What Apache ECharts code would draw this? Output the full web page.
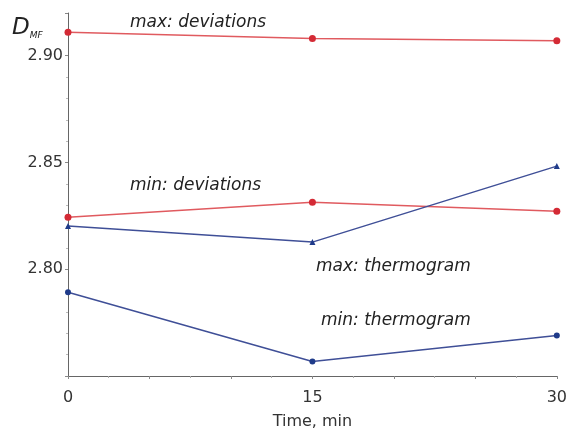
<!DOCTYPE html>
<html><head><meta charset="utf-8">
<script src="https://cdn.jsdelivr.net/npm/echarts@6/dist/echarts.min.js"></script>
<style>html,body{margin:0;padding:0;background:#fff}#c{width:570px;height:435px}</style>
</head><body><div id="c"></div>
<script>
const times = [0, 15, 30];
const maxDeviations = [2.911, 2.908, 2.907];
const minDeviations = [2.8244, 2.8314, 2.8272];
const maxThermogram = [2.8202, 2.8127, 2.8483];
const minThermogram = [2.7892, 2.7568, 2.769];
const xTickLabels = [0, 15, 30];
const yTickLabels = [2.80, 2.85, 2.90];

const pair = arr => times.map((t, i) => [t, arr[i]]);
const chart = echarts.init(document.getElementById('c'));
const red = '#e05a5f', redM = '#d42a35', blue = '#3f4f97', blueM = '#1f3b8a';
const FF = 'DejaVu Sans';
const labelFont = {fontFamily: FF, fontStyle: 'italic', fontSize: 17, fill: '#222'};
chart.setOption({
  animation: false,
  grid: {left: 68, right: 11, top: 13, bottom: 58},
  xAxis: {
    type: 'value', min: 0, max: 30, interval: 5,
    name: 'Time, min', nameLocation: 'middle', nameGap: 38,
    nameTextStyle: {fontFamily: FF, fontSize: 16, color: '#333'},
    axisLine: {lineStyle: {color: '#666', width: 1}},
    axisTick: {show: true, length: 3, lineStyle: {color: '#888'}},
    minorTick: {show: true, splitNumber: 2, length: 2, lineStyle: {color: '#aaa'}},
    splitLine: {show: false},
    axisLabel: {fontFamily: FF, fontSize: 16, color: '#333', margin: 14,
      formatter: v => xTickLabels.includes(v) ? String(v) : ''}
  },
  yAxis: {
    type: 'value', min: 2.75, max: 2.92, interval: 0.05,
    axisLine: {show: true, lineStyle: {color: '#666', width: 1}},
    axisTick: {show: true, length: 3, lineStyle: {color: '#888'}},
    minorTick: {show: true, splitNumber: 5, length: 2, lineStyle: {color: '#bbb'}},
    splitLine: {show: false},
    axisLabel: {fontFamily: FF, fontSize: 16, color: '#333', margin: 5,
      formatter: v => yTickLabels.some(t => Math.abs(t - v) < 1e-6) ? v.toFixed(2) : ''}
  },
  series: [
    {type: 'line', data: pair(maxDeviations), symbol: 'circle', symbolSize: 7,
      lineStyle: {color: red, width: 1.5}, itemStyle: {color: redM}},
    {type: 'line', data: pair(minDeviations), symbol: 'circle', symbolSize: 7,
      lineStyle: {color: red, width: 1.5}, itemStyle: {color: redM}},
    {type: 'line', data: pair(maxThermogram), symbol: 'triangle', symbolSize: 6,
      lineStyle: {color: blue, width: 1.5}, itemStyle: {color: blueM}},
    {type: 'line', data: pair(minThermogram), symbol: 'circle', symbolSize: 6,
      lineStyle: {color: blue, width: 1.5}, itemStyle: {color: blueM}}
  ],
  graphic: [
    {type: 'text', left: 12, top: 17, style: {
      text: '{d|D}{s|MF}', rich: {
        d: {fontFamily: FF, fontStyle: 'italic', fontSize: 23, fill: '#222', verticalAlign: 'bottom'},
        s: {fontFamily: FF, fontStyle: 'italic', fontSize: 9, fill: '#222', verticalAlign: 'bottom', padding: [12, 0, 0, 0]}
      }}},
    {type: 'text', left: 130, top: 14, style: Object.assign({text: 'max: deviations'}, labelFont)},
    {type: 'text', left: 130, top: 177, style: Object.assign({text: 'min: deviations'}, labelFont)},
    {type: 'text', left: 316, top: 258, style: Object.assign({text: 'max: thermogram'}, labelFont)},
    {type: 'text', left: 321, top: 312, style: Object.assign({text: 'min: thermogram'}, labelFont)}
  ]
});
</script></body></html>
